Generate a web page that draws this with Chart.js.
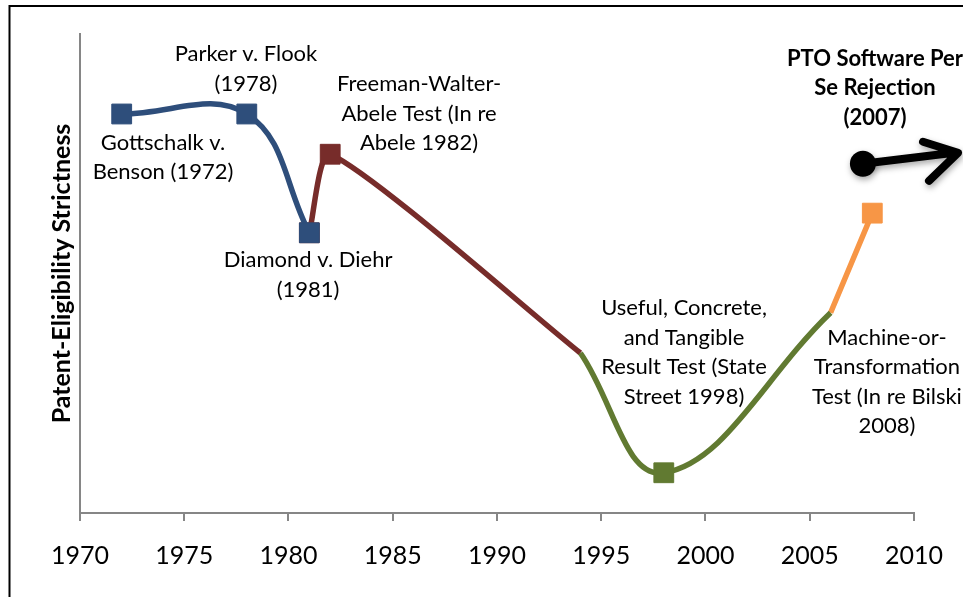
<!DOCTYPE html>
<html>
<head>
<meta charset="utf-8">
<script src="https://cdn.jsdelivr.net/npm/chart.js@4.4.1/dist/chart.umd.min.js"></script>
<style>
  html, body { margin: 0; padding: 0; background: #ffffff; }
  #wrap { width: 963px; height: 597px; position: relative; }
</style>
</head>
<body>
<div id="wrap"><canvas id="c"></canvas></div>
<script>
// ---- data ----
const xTickStart = 1970;
const xTickEnd = 2010;
const xTickStep = 5;

const blueYears = [1972, 1978, 1981];
const blueValues = [83.3, 83.3, 58.5];

const redYears = [1981, 1982, 1994];
const redValues = [58.5, 74.9, 33.4];

const greenYears = [1994, 1998, 2006];
const greenValues = [33.4, 8.4, 41.8];

const orangeYears = [2006, 2008];
const orangeValues = [41.8, 62.6];

// years that carry a square marker
const markedYears = [1972, 1978, 1981, 1982, 1998, 2008];

const yAxisTitle = 'Patent-Eligibility Strictness';

// annotation texts, anchored at (year, value) of their block centre
const annotationTexts = [
  ['Parker v. Flook', '(1978)'],
  ['Gottschalk v.', 'Benson (1972)'],
  ['Freeman-Walter-', 'Abele Test (In re', 'Abele 1982)'],
  ['Diamond v. Diehr', '(1981)'],
  ['Useful, Concrete,', 'and Tangible', 'Result Test (State', 'Street 1998)'],
  ['Machine-or-', 'Transformation', 'Test (In re Bilski', '2008)'],
  ['PTO Software Per', 'Se Rejection', '(2007)']
];
const annotationYears = [1977.96, 1973.98, 1986.26, 1980.94, 1998.97, 2008.7, 2008.13];
const annotationValues = [92.7, 74.2, 83.4, 49.7, 33.5, 27.4, 88.7];
const annotationBold = [false, false, false, false, false, false, true];

// PTO arrow: start (dot) and tip
const arrowYears = [2007.55, 2012.11];
const arrowValues = [72.9, 75.2];

// ---- helpers ----
const FONT = 'Lato, "Open Sans", sans-serif';
function pts(years, values) {
  return years.map((x, i) => ({ x: x, y: values[i] }));
}
function radii(years) {
  return years.map(y => markedYears.includes(y) ? 14 : 0);
}
function ds(label, years, values, color, tension) {
  return {
    label: label,
    data: pts(years, values),
    borderColor: color,
    backgroundColor: color,
    pointBackgroundColor: color,
    pointBorderColor: color,
    borderWidth: 5.5,
    pointStyle: 'rect',
    pointRadius: radii(years),
    pointHoverRadius: radii(years),
    pointBorderWidth: 1,
    tension: tension,
    fill: false
  };
}

const annotPlugin = {
  id: 'annot',
  afterDatasetsDraw(chart) {
    const ctx = chart.ctx;
    const xs = chart.scales.x, ys = chart.scales.y;
    ctx.save();
    ctx.fillStyle = '#000';
    ctx.textAlign = 'center';
    ctx.textBaseline = 'middle';
    const lh = 29.5;
    annotationTexts.forEach((lines, i) => {
      ctx.font = (annotationBold[i] ? 'bold ' : '') + '22px ' + FONT;
      const cx = xs.getPixelForValue(annotationYears[i]);
      const cy = ys.getPixelForValue(annotationValues[i]);
      const top = cy - (lines.length - 1) * lh / 2;
      lines.forEach((t, j) => ctx.fillText(t, cx, top + j * lh));
    });

    // arrow
    const x0 = xs.getPixelForValue(arrowYears[0]);
    const y0 = ys.getPixelForValue(arrowValues[0]);
    const x1 = xs.getPixelForValue(arrowYears[1]);
    const y1 = ys.getPixelForValue(arrowValues[1]);
    ctx.shadowColor = 'rgba(0,0,0,0.35)';
    ctx.shadowBlur = 6;
    ctx.shadowOffsetX = 1;
    ctx.shadowOffsetY = 3;
    ctx.strokeStyle = '#000';
    ctx.fillStyle = '#000';
    ctx.lineWidth = 8;
    ctx.lineCap = 'round';
    ctx.lineJoin = 'round';
    ctx.beginPath();
    ctx.moveTo(x0, y0);
    ctx.lineTo(x1 - 4, y1);
    ctx.moveTo(x1 - 35, y1 - 11);
    ctx.lineTo(x1, y1);
    ctx.lineTo(x1 - 29, y1 + 28);
    ctx.stroke();
    ctx.beginPath();
    ctx.arc(x0, y0, 13, 0, Math.PI * 2);
    ctx.fill();
    ctx.restore();
  },
  afterDraw(chart) {
    const ctx = chart.ctx;
    ctx.save();
    ctx.strokeStyle = '#000';
    ctx.lineWidth = 2;
    ctx.beginPath();
    ctx.moveTo(9.5, 597);
    ctx.lineTo(9.5, 6);
    ctx.lineTo(963, 6);
    ctx.stroke();
    ctx.restore();
  }
};

const axisGray = '#868686';

new Chart(document.getElementById('c'), {
  type: 'line',
  data: {
    datasets: [
      ds('Blue', blueYears, blueValues, '#2E4E7B', 0.4),
      ds('Green', greenYears, greenValues, '#617A31', 0.4),
      ds('Red', redYears, redValues, '#772C2A', 0.2),
      ds('Orange', orangeYears, orangeValues, '#F79646', 0.4)
    ]
  },
  options: {
    responsive: true,
    maintainAspectRatio: false,
    animation: false,
    events: [],
    layout: { padding: { top: 34, right: 48, bottom: 0, left: 0 } },
    plugins: {
      legend: { display: false },
      tooltip: { enabled: false }
    },
    scales: {
      x: {
        type: 'linear',
        min: xTickStart,
        max: xTickEnd,
        afterFit(s) { s.height = 84; },
        ticks: {
          stepSize: xTickStep,
          color: '#000',
          font: { family: FONT, size: 25 },
          padding: 20,
          maxRotation: 0,
          callback: v => String(v)
        },
        grid: {
          display: true,
          drawOnChartArea: false,
          drawTicks: true,
          tickLength: 8,
          color: axisGray,
          lineWidth: 2
        },
        border: { display: true, color: axisGray, width: 2 }
      },
      y: {
        min: 0,
        max: 100,
        afterFit(s) { s.width = 80; },
        ticks: { display: false },
        grid: { display: false },
        border: { display: true, color: axisGray, width: 2 },
        title: {
          display: true,
          text: yAxisTitle,
          color: '#000',
          font: { family: FONT, size: 25, weight: 'bold' },
          padding: { top: 47, bottom: 0 }
        }
      }
    }
  },
  plugins: [annotPlugin]
});
</script>
</body>
</html>
